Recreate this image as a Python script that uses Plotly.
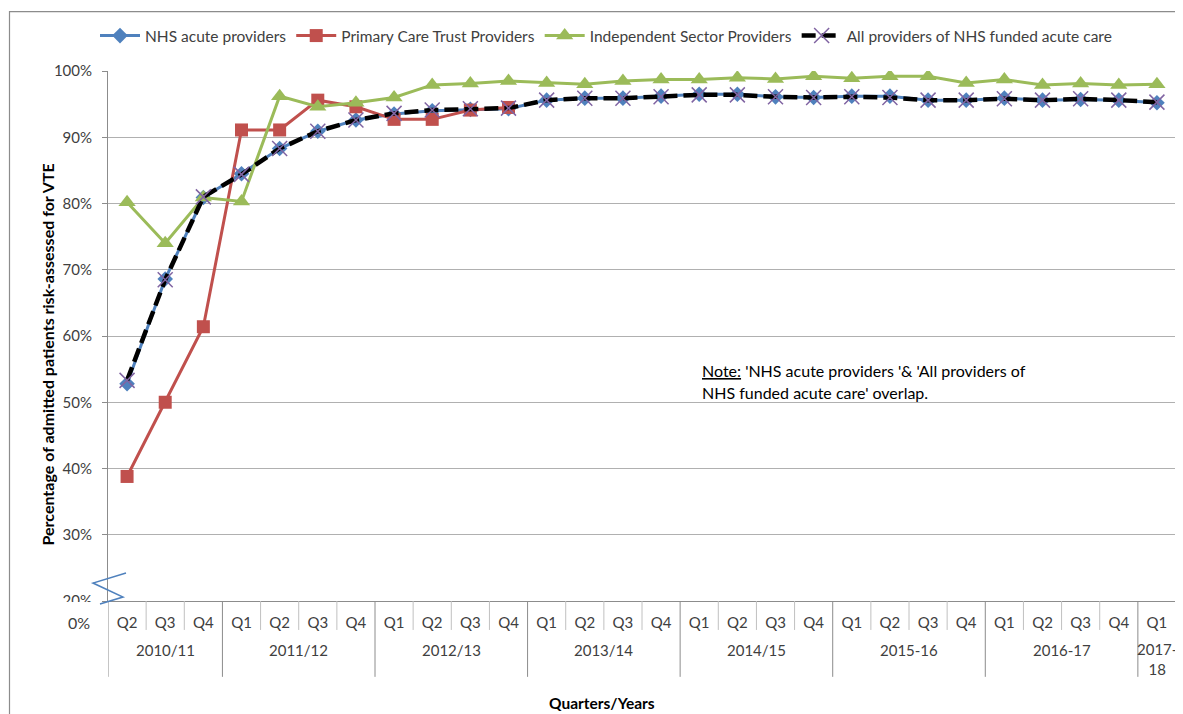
import plotly.graph_objects as go

# ---------------- data ----------------
year_labels = ["2010/11", "2011/12", "2012/13", "2013/14", "2014/15", "2015-16", "2016-17", "2017-<br>18"]
year_counts = [3, 4, 4, 4, 4, 4, 4, 1]
quarters = ["Q2", "Q3", "Q4"] + ["Q1", "Q2", "Q3", "Q4"] * 6 + ["Q1"]

nhs_acute = [52.8, 68.6, 80.9, 84.5, 88.3, 90.9, 92.6, 93.5, 94.0, 94.2, 94.3,
             95.6, 95.9, 95.9, 96.2, 96.5, 96.5, 96.1, 96.0, 96.2, 96.2, 95.6,
             95.6, 95.9, 95.6, 95.7, 95.6, 95.2]
pct = [38.8, 50.0, 61.4, 91.1, 91.1, 95.6, 94.6, 92.7, 92.7, 94.1, 94.5] + [None] * 17
independent = [80.2, 74.0, 80.9, 80.3, 96.2, 94.6, 95.2, 96.0, 97.9, 98.1, 98.5,
               98.2, 98.0, 98.5, 98.7, 98.7, 99.0, 98.8, 99.2, 98.9, 99.2, 99.2,
               98.2, 98.7, 97.9, 98.1, 97.9, 98.0]
all_providers = [53.3, 68.5, 81.0, 84.4, 88.3, 90.9, 92.6, 93.6, 94.1, 94.3, 94.4,
                 95.6, 95.9, 95.9, 96.1, 96.4, 96.4, 96.1, 96.0, 96.1, 96.0, 95.6,
                 95.6, 95.8, 95.6, 95.8, 95.6, 95.3]

y_ticks = [20, 30, 40, 50, 60, 70, 80, 90, 100]

# ---------------- build categories ----------------
point_years = []
for yl, n in zip(year_labels, year_counts):
    point_years += [yl] * n
cats = [f"{y.replace('<br>', '')} {q}" for y, q in zip(point_years, quarters)]

FONT = "Lato"
TXT = "#404040"
GRID = "#b0b0b0"
AX = "#8c8c8c"
FS = 15

fig = go.Figure()
fig.add_trace(go.Scatter(x=cats, y=nhs_acute, name="NHS acute providers", mode="lines+markers",
                         line=dict(color="#4F81BD", width=3),
                         marker=dict(symbol="diamond", size=12, color="#4F81BD")))
fig.add_trace(go.Scatter(x=cats, y=pct, name="Primary Care Trust Providers", mode="lines+markers",
                         line=dict(color="#C0504D", width=3),
                         marker=dict(symbol="square", size=13, color="#C0504D")))
fig.add_trace(go.Scatter(x=cats, y=independent, name="Independent Sector Providers", mode="lines+markers",
                         line=dict(color="#9BBB59", width=3),
                         marker=dict(symbol="triangle-up", size=15, color="#9BBB59")))
fig.add_trace(go.Scatter(x=cats, y=all_providers, name="All providers of NHS funded acute care",
                         mode="lines+markers",
                         line=dict(color="black", width=4.5, dash="14px,6px"),
                         marker=dict(symbol="x-thin", size=15, color="#8064A2",
                                     line=dict(color="#8064A2", width=1.5))))

# ---------------- geometry helpers (reference page pixel coords) ----------------
OFF = 8                      # page body margin
W, H = 1183, 714
X0, X1, Y0, Y1 = 108, 1176, 70, 601          # plot area in page coords
L, T = X0 - OFF, Y0 - OFF
R, B = W - (X1 - OFF), H - (Y1 - OFF)
PW, PH = X1 - X0, Y1 - Y0
def px(xp):
    return (xp - X0) / PW
def py(yp):
    return (Y1 - yp) / PH

shapes = []
annotations = []

# quarter ticks and year dividers below the x axis
bounds = [0]
for n in year_counts:
    bounds.append(bounds[-1] + n)
year_bounds = set(bounds)
for i in range(len(cats) + 1):
    major = i in year_bounds
    shapes.append(dict(type="line", xref="x", yref="paper", x0=i - 0.5, x1=i - 0.5,
                       y0=0, y1=py(677) if major else py(630),
                       line=dict(color=AX if major else "#c0c0c0", width=1)))

# year labels
for k, yl in enumerate(year_labels):
    c = (bounds[k] + bounds[k + 1] - 1) / 2
    annotations.append(dict(x=c, y=py(659) if "<br>" in yl else py(650), xref="x", yref="paper",
                            text=yl, showarrow=False, font=dict(family=FONT, size=FS, color=TXT),
                            xanchor="center", yanchor="middle"))

# hide lower half of the 20% label (broken axis look)
shapes.append(dict(type="rect", xref="paper", yref="paper", x0=px(35), x1=px(106), y0=py(602), y1=py(614),
                   fillcolor="white", line=dict(width=0), layer="above"))
# zig-zag axis break
zz = [(126, 573), (93, 583), (123, 597), (100, 604)]
path = "M " + " L ".join(f"{px(a):.5f},{py(b):.5f}" for a, b in zz)
shapes.append(dict(type="path", xref="paper", yref="paper", path=path,
                   line=dict(color="#4F81BD", width=1.5), layer="above"))

# outer chart frame
shapes.append(dict(type="rect", xref="paper", yref="paper", x0=px(9.5), x1=px(1195), y0=py(730), y1=py(10.5),
                   line=dict(color=AX, width=1.2), fillcolor="rgba(0,0,0,0)", layer="below"))

annotations.append(dict(x=px(79), y=py(623), xref="paper", yref="paper", text="0%", showarrow=False,
                        font=dict(family=FONT, size=16, color=TXT), xanchor="center", yanchor="middle"))
annotations.append(dict(x=px(47), y=py(354), xref="paper", yref="paper",
                        text="<b>Percentage of admitted patients risk-assessed for VTE</b>",
                        textangle=-90, showarrow=False, xanchor="center", yanchor="middle",
                        font=dict(family=FONT, size=16, color="black")))
annotations.append(dict(x=px(602), y=py(703), xref="paper", yref="paper", text="<b>Quarters/Years</b>",
                        showarrow=False, xanchor="center", yanchor="middle",
                        font=dict(family=FONT, size=15.5, color="black")))
annotations.append(dict(x=px(700), y=py(370), xref="paper", yref="paper", xanchor="left", yanchor="middle",
                        text="<u>Note:</u> 'NHS acute providers '& 'All providers of",
                        showarrow=False, font=dict(family=FONT, size=16, color="black")))
annotations.append(dict(x=px(700), y=py(392), xref="paper", yref="paper", xanchor="left", yanchor="middle",
                        text="NHS funded acute care' overlap.",
                        showarrow=False, font=dict(family=FONT, size=16, color="black")))

fig.update_layout(
    width=W, height=H,
    margin=dict(l=L, r=R, t=T, b=B),
    paper_bgcolor="white", plot_bgcolor="white",
    font=dict(family=FONT, size=FS, color=TXT),
    showlegend=True,
    legend=dict(orientation="h", x=px(606), xanchor="center", y=py(36), yanchor="middle",
                font=dict(family=FONT, size=15.5, color=TXT), bgcolor="rgba(0,0,0,0)",
                tracegroupgap=0, itemwidth=40),
    shapes=shapes,
    annotations=annotations,
)
fig.update_xaxes(type="category", tickvals=cats, ticktext=quarters, showgrid=False,
                 showline=True, linecolor=AX, linewidth=1, ticks="",
                 ticklabelstandoff=8, tickfont=dict(family=FONT, size=FS, color=TXT),
                 range=[-0.5, len(cats) - 0.5], automargin=False)
fig.update_yaxes(range=[20, 100], tickvals=y_ticks, ticktext=[f"{v}%" for v in y_ticks],
                 showgrid=True, gridcolor=GRID, gridwidth=1,
                 showline=True, linecolor=AX, linewidth=1,
                 ticks="outside", ticklen=5, tickcolor=AX, ticklabelstandoff=7,
                 tickfont=dict(family=FONT, size=FS, color=TXT), zeroline=False, automargin=False)

fig.write_html("out.html")
